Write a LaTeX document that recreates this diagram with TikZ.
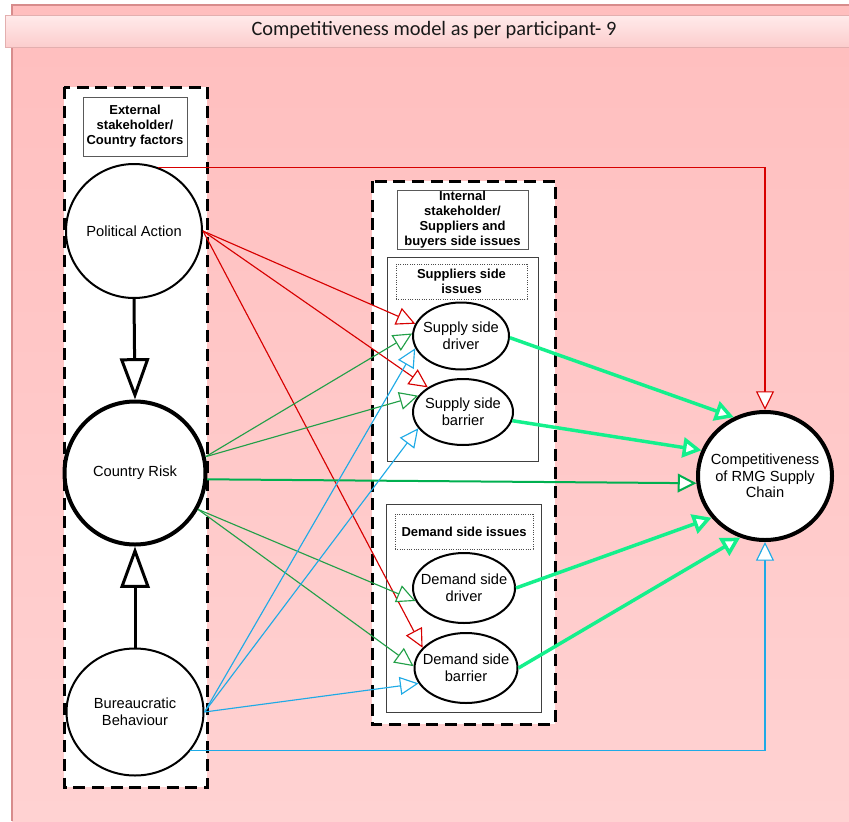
\documentclass[tikz,border=0pt]{standalone}
\usepackage{fontspec}
\setmainfont{Liberation Sans}
\newfontfamily\titlefont{Carlito}
\usetikzlibrary{shapes.geometric,arrows.meta}

\definecolor{pinktop}{RGB}{255,190,190}
\definecolor{pinkbot}{RGB}{255,210,210}
\definecolor{pinkedge}{RGB}{215,140,140}
\definecolor{bartop}{RGB}{255,235,235}
\definecolor{barbot}{RGB}{252,205,205}
\definecolor{linkred}{RGB}{215,0,0}
\definecolor{linkgreen}{RGB}{34,160,72}
\definecolor{riskgreen}{RGB}{0,176,80}
\definecolor{linkblue}{RGB}{30,170,230}
\definecolor{springline}{RGB}{20,240,140}

\begin{document}
\begin{tikzpicture}[x=0.75pt,y=-0.75pt,
  dashframe/.style={draw=black,line width=2.25pt,dash pattern=on 9pt off 5pt,fill=white},
  subframe/.style={draw=black!75,line width=0.75pt},
  lbl/.style={draw=black!65,line width=0.75pt,fill=white,align=center,
    font=\bfseries\fontsize{9.75pt}{11.25pt}\selectfont,inner sep=0pt},
  sublbl/.style={lbl,draw=black!70,densely dotted},
  ell/.style={ellipse,draw=black,line width=1.5pt,fill=white,align=center,inner sep=-9pt,
    font=\fontsize{11pt}{12.5pt}\selectfont},
  thickell/.style={ell,line width=3pt},
  thin/.style={line width=0.85pt,-{Triangle[fill=white,length=14pt,width=13.5pt]}},
  redlink/.style={thin,draw=linkred},
  greenlink/.style={thin,draw=linkgreen},
  bluelink/.style={thin,draw=linkblue},
  risklink/.style={draw=riskgreen,line width=1.5pt,-{Triangle[fill=white,length=14pt,width=14pt]}},
  springlink/.style={draw=springline,line width=2.6pt,-{Triangle[fill=white,length=14pt,width=15pt]}},
  blacklink/.style={draw=black,line width=2.25pt,-{Triangle[fill=white,length=31pt,width=22pt]}}
]
\useasboundingbox (0,0) rectangle (849,821);
\fill[white] (0,0) rectangle (849,821);

% canvas and title bar
\shade[top color=pinktop,bottom color=pinkbot] (12,5) rectangle (849,821);
\draw[pinkedge,line width=0.9pt] (12,821) -- (12,5) -- (849,5);
\shadedraw[draw=pinkedge!70,line width=0.75pt,top color=bartop,middle color=white,bottom color=barbot]
  (5,15) rectangle (852,47);
\node[font=\titlefont\fontsize{15.3pt}{17pt}\selectfont,text=black!90] (title) at (434,30)
  {Competitiveness model as per participant- 9};

% group frames
\draw[dashframe] (64,87) rectangle (207,787);
\draw[dashframe] (372,181) rectangle (555,724);
\draw[subframe] (387,257) rectangle (538,461);
\draw[subframe] (386,504) rectangle (541,712);

% frame captions
\node[lbl,minimum width=78pt,minimum height=44.25pt] (extlbl) at (135,126.5)
  {External\\stakeholder/\\Country factors};
\node[lbl,minimum width=98.25pt,minimum height=44.25pt] (intlbl) at (462.5,219.5)
  {Internal\\stakeholder/\\Suppliers and\\buyers side issues};
\node[sublbl,minimum width=98.25pt,minimum height=26.25pt] (suplbl) at (461.5,281.5)
  {Suppliers side\\issues};
\node[sublbl,minimum width=103.5pt,minimum height=26.25pt] (demlbl) at (464,531.5)
  {Demand side issues};

% factors
\node[ell,minimum width=102pt,minimum height=100.5pt] (pa) at (134,231) {Political Action};
\node[thickell,minimum width=105.75pt,minimum height=107.25pt] (cr) at (135,473) {Country Risk};
\node[ell,minimum width=102.75pt,minimum height=95.25pt] (bb) at (135,712) {Bureaucratic\\Behaviour};

\node[ell,minimum width=72pt,minimum height=50.25pt] (ssd) at (461,336) {Supply side\\driver};
\node[ell,minimum width=75pt,minimum height=49.5pt] (ssb) at (463,412) {Supply side\\barrier};
\node[ell,minimum width=76.5pt,minimum height=52.5pt] (dsd) at (464,588) {Demand side\\driver};
\node[ell,minimum width=77.25pt,minimum height=52.5pt] (dsb) at (466,668) {Demand side\\barrier};

\node[thickell,minimum width=100.5pt,minimum height=96pt] (comp) at (765,476)
  {Competitiveness\\of RMG Supply\\Chain};

% links between the country factors
\draw[blacklink] (pa.south) -- (cr.north);
\draw[blacklink] (bb.north) -- (cr.south);

% political action
\draw[redlink] (pa.69) -| (comp.north);
\draw[redlink] (pa.east) -- (ssd.165);
\draw[redlink] (pa.east) -- (ssb.145);
\draw[redlink] (pa.east) -- (dsb.155);

% country risk
\draw[greenlink] (cr.13) -- (ssd.177);
\draw[greenlink] (cr.13) -- (ssb.160);
\draw[greenlink] (cr.330) -- (dsd.195);
\draw[greenlink] (cr.330) -- (dsb.178);
\draw[risklink] (cr.355) -- (comp.186);

% bureaucratic behaviour
\draw[bluelink] (bb.east) -- (ssd.195);
\draw[bluelink] (bb.east) -- (ssb.200);
\draw[bluelink] (bb.east) -- (dsb.198);
\draw[bluelink] (bb.325) -| (comp.south);

% internal issues
\draw[springlink] (ssd.358) -- (comp.118);
\draw[springlink] (ssb.350) -- (comp.158);
\draw[springlink] (dsd.east) -- (comp.218);
\draw[springlink] (dsb.east) -- (comp.248);
\end{tikzpicture}
\end{document}
